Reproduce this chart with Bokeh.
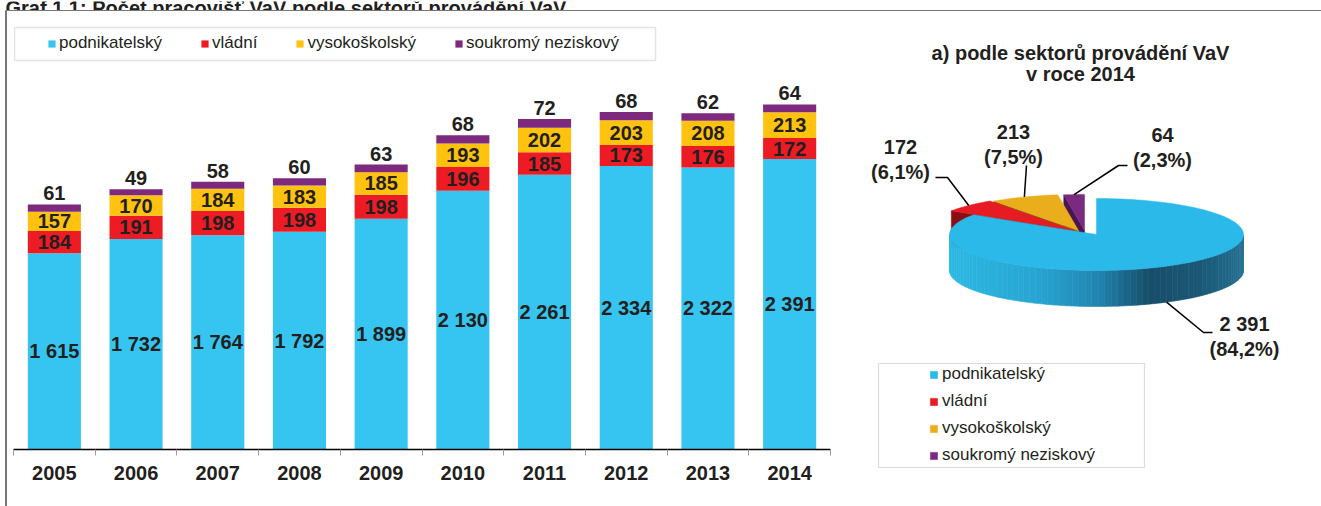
import math
from bokeh.plotting import figure
from bokeh.models import (Range1d, LinearAxis, FixedTicker, Legend, LegendItem,
                          BoxAnnotation, ColumnDataSource, Spacer)
from bokeh.layouts import row, column
from bokeh.embed import file_html
from bokeh.resources import INLINE
from bokeh.core.properties import value

# ---------------- data ----------------
years = [2005, 2006, 2007, 2008, 2009, 2010, 2011, 2012, 2013, 2014]
podnikatelsky = [1615, 1732, 1764, 1792, 1899, 2130, 2261, 2334, 2322, 2391]
vladni = [184, 191, 198, 198, 198, 196, 185, 173, 176, 172]
vysokoskolsky = [157, 170, 184, 183, 185, 193, 202, 203, 208, 213]
soukromy_neziskovy = [61, 49, 58, 60, 63, 68, 72, 68, 62, 64]
series_names = ["podnikatelský", "vládní", "vysokoškolský", "soukromý neziskový"]
main_title = "Graf 1.1: Počet pracovišť VaV podle sektorů provádění VaV"
pie_title = ["a) podle sektorů provádění VaV", "v roce 2014"]

# ---------------- style ----------------
FONT = "Liberation Sans"
TXT = "#231f20"
BAR_COLORS = ["#36c5f1", "#ed1c24", "#ffc20e", "#7d2a7e"]
PIE_TOP = ["#2ab9e8", "#e71b23", "#eaae1c", "#7a2b80"]
PIE_DARK = ["#1d6f93", "#8a0f14", "#8a6a12", "#4a1550"]
BORDER = "#777777"
LBL = "20px"


def fmt(v):
    return f"{v:,}".replace(",", " ")


# ---------------- top strip: cut-off title + frame line ----------------
top = figure(width=1321, height=11, x_range=Range1d(0, 1321), y_range=Range1d(11, 0),
             toolbar_location=None, output_backend="svg", x_axis_type=None,
             y_axis_type=None, min_border=0)
top.outline_line_color = None
top.text(x=[5], y=[6], text=[main_title], text_align="left", text_baseline="alphabetic",
         text_font=value(FONT), text_font_style="bold", text_font_size=LBL, text_color=TXT)
top.multi_line(xs=[[5, 1321], [6, 6]], ys=[[9.5, 9.5], [9, 11]], line_color=BORDER, line_width=2)

# ---------------- bar chart ----------------
src = ColumnDataSource(dict(year=years, p=podnikatelsky, v=vladni,
                            s=vysokoskolsky, n=soukromy_neziskovy))

p = figure(width=833, height=495, x_range=Range1d(2004.5, 2014.5),
           y_range=Range1d(0, 3605), toolbar_location=None, output_backend="svg",
           x_axis_type=None, y_axis_type=None, min_border_left=6,
           min_border_right=10, min_border_top=0, min_border_bottom=57)
p.outline_line_color = None

bars = p.vbar_stack(["p", "v", "s", "n"], x="year", width=0.65,
                    color=BAR_COLORS, line_color=None, source=src)

lx, ly, lt = [], [], []
for i, yr in enumerate(years):
    base = 0
    for ser in (podnikatelsky, vladni, vysokoskolsky):
        lx.append(yr)
        ly.append(base + ser[i] / 2)
        lt.append(fmt(ser[i]))
        base += ser[i]
p.text(x="x", y="y", text="t", source=ColumnDataSource(dict(x=lx, y=ly, t=lt)),
       text_align="center", text_baseline="middle", text_font=value(FONT),
       text_font_style="bold", text_font_size=LBL, text_color=TXT)

totals = [a + b + c + d for a, b, c, d in zip(podnikatelsky, vladni, vysokoskolsky, soukromy_neziskovy)]
p.text(x="x", y="y", text="t",
       source=ColumnDataSource(dict(x=years, y=totals, t=[fmt(v) for v in soukromy_neziskovy])),
       text_align="center", text_baseline="bottom", y_offset=-4,
       text_font=value(FONT), text_font_style="bold", text_font_size=LBL,
       text_color=TXT)

xaxis = LinearAxis(ticker=FixedTicker(ticks=years,
                                      minor_ticks=[y - 0.5 for y in years] + [years[-1] + 0.5]))
xaxis.major_tick_out = 0
xaxis.major_tick_in = 0
xaxis.minor_tick_out = 6
xaxis.minor_tick_in = 0
xaxis.minor_tick_line_color = "#9a9a9a"
xaxis.axis_line_color = "black"
xaxis.axis_line_width = 1.5
xaxis.major_label_text_font = FONT
xaxis.major_label_text_font_style = "bold"
xaxis.major_label_text_font_size = LBL
xaxis.major_label_text_color = TXT
xaxis.major_label_standoff = 10
p.add_layout(xaxis, "below")

p.add_layout(BoxAnnotation(left=1, right=642, bottom=389, top=422,
                           left_units="screen", right_units="screen",
                           bottom_units="screen", top_units="screen",
                           fill_color=None, line_color="#a6a6a6", line_width=1.5))
leg = Legend(items=[LegendItem(label=n, renderers=[r]) for n, r in zip(series_names, bars)],
             orientation="horizontal", location=(34, 396), padding=0, margin=0,
             spacing=38, glyph_width=9, glyph_height=9, label_standoff=3,
             border_line_color=None, background_fill_alpha=0,
             label_text_font=FONT, label_text_font_size="17px", label_text_color=TXT)
p.add_layout(leg, "center")

# ---------------- pie chart (3D-looking) ----------------
pie_vals = [podnikatelsky[-1], vladni[-1], vysokoskolsky[-1], soukromy_neziskovy[-1]]
pie_total = sum(pie_vals)

RX, RY, DEPTH = 147, 36, 36
CX, CY = 1078, 230
EXPLODE = [(18, 4), (-4, 0), (0, 0), (6, 0)]

q = figure(width=481, height=495, x_range=Range1d(840, 1321), y_range=Range1d(506, 11),
           toolbar_location=None, output_backend="svg", x_axis_type=None,
           y_axis_type=None, min_border=0)
q.outline_line_color = None


def ept(cx, cy, th):
    r = math.radians(th)
    return cx + RX * math.cos(r), cy - RY * math.sin(r)


slices = []
start = 90.0
for i, v in enumerate(pie_vals):
    hi = start
    lo = start - 360.0 * v / pie_total
    start = lo
    slices.append((lo, hi, CX + EXPLODE[i][0], CY + EXPLODE[i][1]))

# radial (cut) faces visible to the viewer
faces = []
for i, (lo, hi, cx, cy) in enumerate(slices):
    if math.sin(math.radians(hi + 90)) < -0.05:
        ex, ey = ept(cx, cy, hi)
        faces.append((ey, [cx, ex, ex, cx], [cy, ey, ey + DEPTH, cy + DEPTH], PIE_DARK[i]))
faces.sort(key=lambda f: f[0])
q.patches(xs=[f[1] for f in faces], ys=[f[2] for f in faces],
          fill_color=[f[3] for f in faces], line_color=[f[3] for f in faces], line_width=0.5)

# outer side walls (front half only) with shading
STOPS = [(0.0, (44, 186, 228)), (0.3, (40, 165, 210)), (0.5, (33, 135, 178)),
         (0.68, (24, 78, 106)), (0.85, (27, 88, 118)), (1.0, (36, 112, 146))]


def grad(t):
    for (t0, c0), (t1, c1) in zip(STOPS[:-1], STOPS[1:]):
        if t <= t1:
            f = (t - t0) / (t1 - t0) if t1 > t0 else 0
            return "#%02x%02x%02x" % tuple(int(a + (b - a) * f) for a, b in zip(c0, c1))
    return "#%02x%02x%02x" % STOPS[-1][1]


sx, sy, sc = [], [], []
for i, (lo, hi, cx, cy) in enumerate(slices):
    n = 120
    angs = [lo + (hi - lo) * k / n for k in range(n + 1)]
    for a0, a1 in zip(angs[:-1], angs[1:]):
        m = (a0 + a1) / 2
        if math.sin(math.radians(m)) < 0:
            x0, y0 = ept(cx, cy, a0)
            x1, y1 = ept(cx, cy, a1)
            sx.append([x0, x1, x1, x0])
            sy.append([y0, y1, y1 + DEPTH, y0 + DEPTH])
            t = (math.cos(math.radians(m)) + 1) / 2
            sc.append(grad(t) if i == 0 else PIE_DARK[i])
if sx:
    q.patches(xs=sx, ys=sy, fill_color=sc, line_color=sc, line_width=0.6)

# top faces
tops = {}
for i in [1, 2, 3, 0]:
    lo, hi, cx, cy = slices[i]
    n = max(8, int((hi - lo) / 2))
    xs, ys = [cx], [cy]
    for k in range(n + 1):
        x, y = ept(cx, cy, lo + (hi - lo) * k / n)
        xs.append(x)
        ys.append(y)
    tops[i] = q.patch(xs, ys, fill_color=PIE_TOP[i], line_color=PIE_TOP[i], line_width=0.5)

# labels with leader lines
LABEL_POS = [(1244, 335.5), (900, 159), (1013, 143.5), (1162, 147)]
LEADER = [[(1203, 332), (1212, 332)], [(947, 177), (935, 177)],
          [(1026, 165)], [(1118, 165), (1127, 165)]]
mx, my = [], []
for i, (lo, hi, cx, cy) in enumerate(slices):
    m = (lo + hi) / 2
    x0, y0 = ept(cx, cy, m)
    if math.sin(math.radians(m)) < 0:
        y0 += DEPTH
    mx.append([x0] + [pt[0] for pt in LEADER[i]])
    my.append([y0] + [pt[1] for pt in LEADER[i]])
q.multi_line(xs=mx, ys=my, line_color="black", line_width=1.5)

pct = [("(%.1f%%)" % (100.0 * v / pie_total)).replace(".", ",") for v in pie_vals]
lab_src = ColumnDataSource(dict(x=[pt[0] for pt in LABEL_POS], y=[pt[1] for pt in LABEL_POS],
                                v=[fmt(v) for v in pie_vals], pc=pct))
for col, off in (("v", -12.5), ("pc", 12.5)):
    q.text(x="x", y="y", text=col, source=lab_src, y_offset=off, text_align="center",
           text_baseline="middle", text_font=value(FONT), text_font_style="bold",
           text_font_size=LBL, text_color=TXT)

for k, line in enumerate(pie_title):
    q.text(x=[1080], y=[52 + 21 * k], text=[line], text_align="center",
           text_baseline="middle", text_font=value(FONT), text_font_style="bold",
           text_font_size=LBL, text_color=TXT)

# legend box: page 878..1144 x 363..467 (frame is page 840..1321 x 11..506)
q.add_layout(BoxAnnotation(left=38, right=304, bottom=39, top=143,
                           left_units="screen", right_units="screen",
                           bottom_units="screen", top_units="screen",
                           fill_color=None, line_color="#8a8a8a", line_width=1.2))
pleg = Legend(items=[LegendItem(label=series_names[i], renderers=[tops[i]]) for i in range(4)],
              orientation="vertical", location=(89, 41), padding=0, margin=0,
              spacing=7, glyph_width=9, glyph_height=9, label_standoff=4,
              border_line_color=None, background_fill_alpha=0,
              label_text_font=FONT, label_text_font_size="17px", label_text_color=TXT)
q.add_layout(pleg, "center")

# ---------------- layout ----------------
left_gap = Spacer(width=5, height=495)
left_line = Spacer(width=2, height=495, styles={"background-color": BORDER})
layout = column(top, row(left_gap, left_line, p, column(q)))

open("out.html", "w").write(file_html(layout, INLINE))
